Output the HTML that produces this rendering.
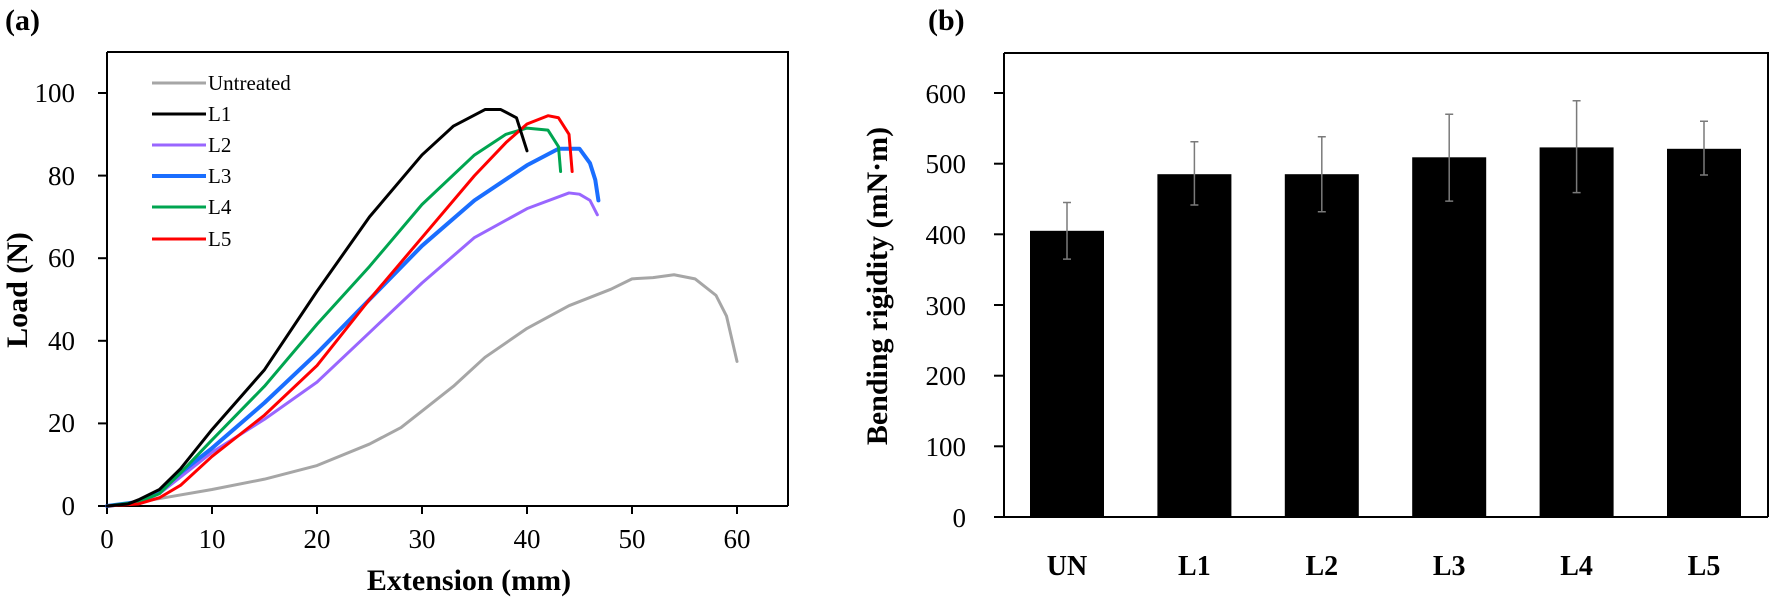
<!DOCTYPE html>
<html><head><meta charset="utf-8"><style>
html,body{margin:0;padding:0;background:#fff;}
svg{display:block;font-family:"Liberation Serif",serif;}
.t{font-size:27px;fill:#000;}
.b{font-weight:bold;font-size:30px;fill:#000;}
.l{font-size:21px;fill:#000;}
.c{fill:none;stroke-linejoin:round;stroke-linecap:round;vector-effect:non-scaling-stroke;}
</style></head><body>
<svg width="1770" height="599" viewBox="0 0 1770 599" xmlns="http://www.w3.org/2000/svg">
<text x="5" y="30" class="b">(a)</text>
<!-- left frame -->
<path d="M107,52 H788 V506 M107,52 V506 H788" fill="none" stroke="#000" stroke-width="2"/>
<g stroke="#000" stroke-width="2">
<line x1="98" y1="506" x2="107" y2="506"/><line x1="98" y1="423.4" x2="107" y2="423.4"/><line x1="98" y1="340.8" x2="107" y2="340.8"/><line x1="98" y1="258.2" x2="107" y2="258.2"/><line x1="98" y1="175.6" x2="107" y2="175.6"/><line x1="98" y1="93" x2="107" y2="93"/>
<line x1="107" y1="506" x2="107" y2="514"/><line x1="212" y1="506" x2="212" y2="514"/><line x1="317" y1="506" x2="317" y2="514"/><line x1="422" y1="506" x2="422" y2="514"/><line x1="527" y1="506" x2="527" y2="514"/><line x1="632" y1="506" x2="632" y2="514"/><line x1="737" y1="506" x2="737" y2="514"/>
</g>
<g class="t" text-anchor="end">
<text x="75" y="515">0</text><text x="75" y="432">20</text><text x="75" y="350">40</text><text x="75" y="267">60</text><text x="75" y="185">80</text><text x="75" y="102">100</text>
</g>
<g class="t" text-anchor="middle">
<text x="107" y="548">0</text><text x="212" y="548">10</text><text x="317" y="548">20</text><text x="422" y="548">30</text><text x="527" y="548">40</text><text x="632" y="548">50</text><text x="737" y="548">60</text>
</g>
<text x="469" y="590" class="b" text-anchor="middle">Extension (mm)</text>
<text transform="translate(27,290) rotate(-90)" class="b" text-anchor="middle">Load (N)</text>
<!-- curves -->
<g transform="translate(107,506) scale(10.5,-4.13)">
<polyline class="c" stroke="#a6a6a6" stroke-width="3" points="0,0 2,0.5 5,1.8 10,4 15,6.5 20,9.8 25,15 28,19 30,23 33,29 36,36 40,43 44,48.5 48,52.5 50,55 52,55.3 54,56 56,55 58,51 59,46 60,35"/>
<polyline class="c" stroke="#9966ff" stroke-width="3" points="0,0 3,0.8 5,3 7,7 10,13 15,21 20,30 25,42 30,54 35,65 40,72 44,75.8 45,75.5 46,74 46.7,70.5"/>
<polyline class="c" stroke="#1a6eff" stroke-width="4" points="0,0 3,1 5,3.5 7,8 10,14 15,25 20,37 25,50 30,63 35,74 40,82.5 43,86.5 45,86.5 46,83 46.5,79 46.8,74"/>
<polyline class="c" stroke="#00a550" stroke-width="3" points="0,0 3,1 5,3 7,8 10,16 15,29 20,44 25,58 30,73 35,85 38,90 40,91.5 42,91 43,87 43.2,81"/>
<polyline class="c" stroke="#ff0000" stroke-width="3" points="0,0 3,0.5 5,2 7,5 10,12 15,22 20,34 25,50 30,65 35,80 38,88 40,92.5 42,94.5 43,94 44,90 44.3,81"/>
<polyline class="c" stroke="#000" stroke-width="3" points="0,0 2,0.5 3,1.5 5,4 7,9 10,18.5 15,33 20,52 25,70 30,85 33,92 36,96 37.5,96 39,94 39.5,90 40,86"/>
</g>
<!-- legend -->
<g stroke-width="3">
<line x1="152" y1="83" x2="206" y2="83" stroke="#a6a6a6"/>
<line x1="152" y1="114" x2="206" y2="114" stroke="#000"/>
<line x1="152" y1="145" x2="206" y2="145" stroke="#9966ff"/>
<line x1="152" y1="176" x2="206" y2="176" stroke="#1a6eff" stroke-width="4"/>
<line x1="152" y1="207" x2="206" y2="207" stroke="#00a550"/>
<line x1="152" y1="239" x2="206" y2="239" stroke="#ff0000"/>
</g>
<g class="l">
<text x="208" y="90">Untreated</text><text x="208" y="121">L1</text><text x="208" y="152">L2</text><text x="208" y="183">L3</text><text x="208" y="214">L4</text><text x="208" y="246">L5</text>
</g>

<!-- right chart -->
<text x="928" y="30" class="b">(b)</text>
<path d="M1004,53 H1768 V517 M1004,53 V517 H1768" fill="none" stroke="#000" stroke-width="2"/>
<g stroke="#000" stroke-width="2">
<line x1="994" y1="517" x2="1004" y2="517"/><line x1="994" y1="446.3" x2="1004" y2="446.3"/><line x1="994" y1="375.7" x2="1004" y2="375.7"/><line x1="994" y1="305" x2="1004" y2="305"/><line x1="994" y1="234.3" x2="1004" y2="234.3"/><line x1="994" y1="163.7" x2="1004" y2="163.7"/><line x1="994" y1="93" x2="1004" y2="93"/>
</g>
<g class="t" text-anchor="end">
<text x="966" y="527">0</text><text x="966" y="456">100</text><text x="966" y="385">200</text><text x="966" y="315">300</text><text x="966" y="244">400</text><text x="966" y="173">500</text><text x="966" y="103">600</text>
</g>
<text transform="translate(887,286) rotate(-90)" class="b" text-anchor="middle">Bending rigidity (mN·m)</text>
<!-- bars: y = 517 - v*0.7067 -->
<g fill="#000">
<rect x="1030" y="230.8" width="74" height="286.2"/>
<rect x="1157.4" y="174.2" width="74" height="342.8"/>
<rect x="1284.8" y="174.2" width="74" height="342.8"/>
<rect x="1412.2" y="157.3" width="74" height="359.7"/>
<rect x="1539.6" y="147.4" width="74" height="369.6"/>
<rect x="1667" y="148.8" width="74" height="368.2"/>
</g>
<g stroke="#7a7a7a" stroke-width="1.5">
<path d="M1067,202.5V259.1M1063,202.5h8M1063,259.1h8"/>
<path d="M1194.4,141.7V205.0M1190.4,141.7h8M1190.4,205.0h8"/>
<path d="M1321.8,136.8V211.7M1317.8,136.8h8M1317.8,211.7h8"/>
<path d="M1449.2,114.2V201.1M1445.2,114.2h8M1445.2,201.1h8"/>
<path d="M1576.6,100.8V192.6M1572.6,100.8h8M1572.6,192.6h8"/>
<path d="M1704,121.3V175.0M1700,121.3h8M1700,175.0h8"/>
</g>
<g class="b" text-anchor="middle" style="font-size:28px">
<text x="1067" y="575">UN</text><text x="1194.4" y="575">L1</text><text x="1321.8" y="575">L2</text><text x="1449.2" y="575">L3</text><text x="1576.6" y="575">L4</text><text x="1704" y="575">L5</text>
</g>
</svg>
</body></html>
